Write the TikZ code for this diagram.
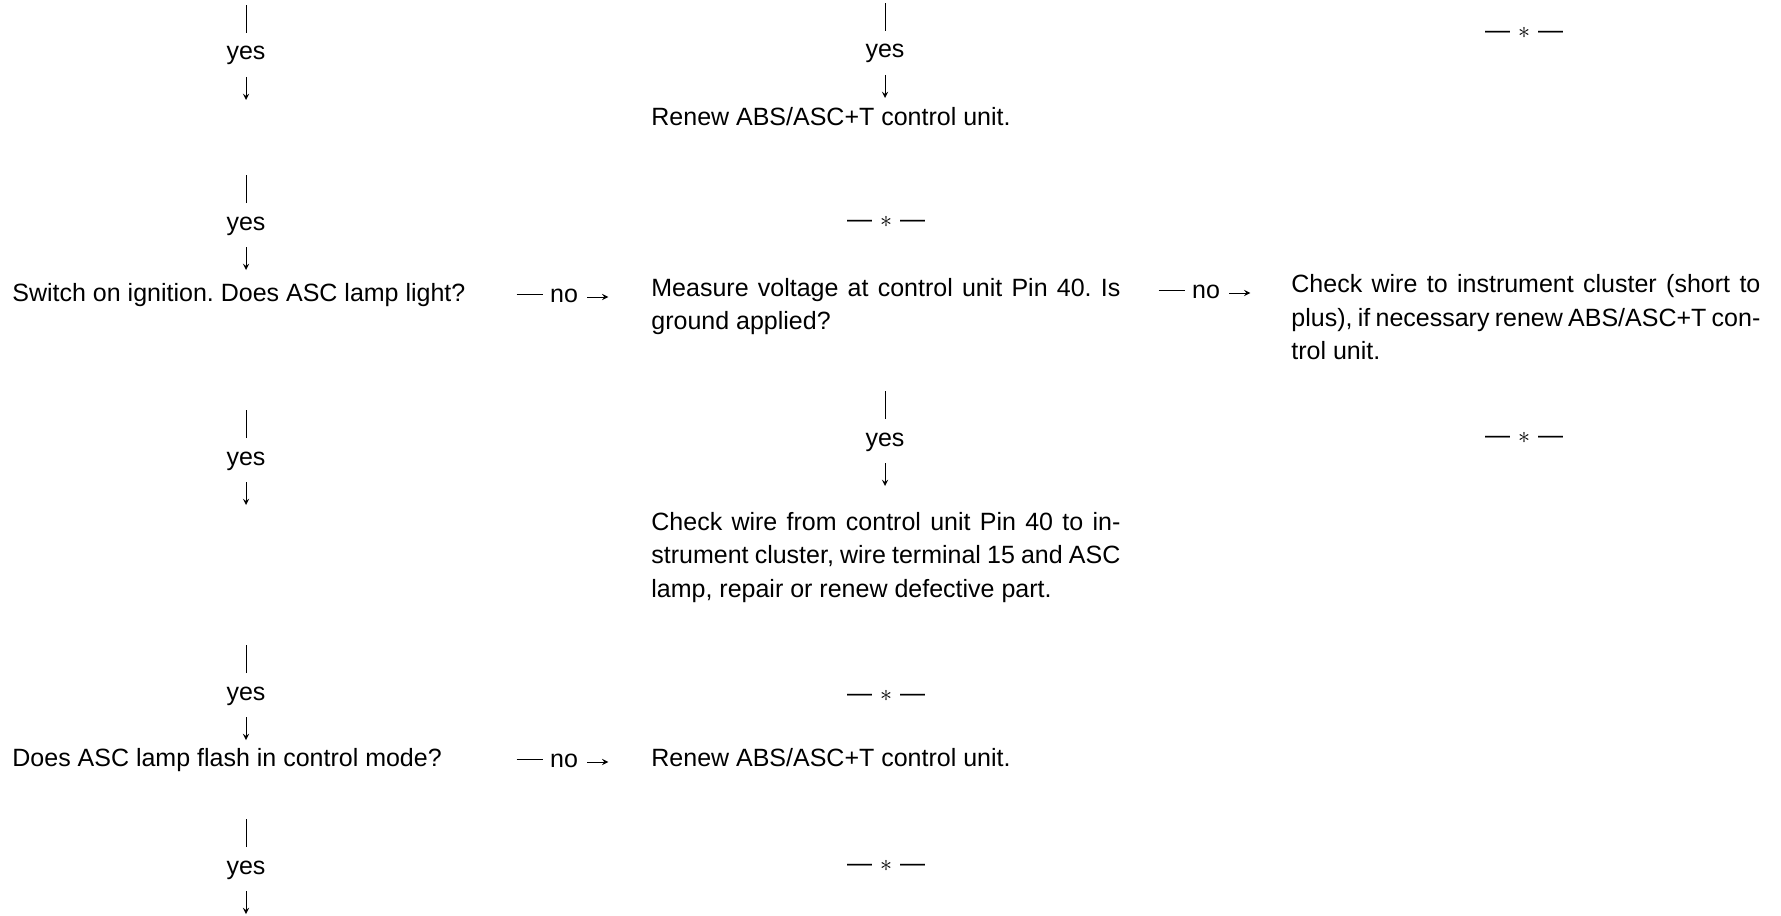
\documentclass[tikz,border=0pt]{standalone}
\usepackage{fontspec}
\setmainfont{Liberation Sans}
\frenchspacing
\def\colw{234.5pt}
\def\barlen{28}
\def\arrlen{23}
\tikzset{
semithick, % all lines semithick
>=stealth, % all arrows with stealth tip
my text/.style={font=\fontsize{12.5}{16.75}\selectfont,inner sep=0pt},
my block/.style={my text,align=left,anchor=base west},
my label/.style={my text,anchor=base},
my mark/.style={my text,anchor=base},
}
\begin{document}
\begin{tikzpicture}[x=0.5pt,y=-0.5pt]
\useasboundingbox (0,0) rectangle (1781,915);
% left column
\node[my label] (y1) at (246,60) {yes};
\node[my label] (y2) at (246,230) {yes};
\node[my block] (q1) at (12,301.5) {Switch on ignition. Does ASC lamp light?};
\node[my label] (y3) at (246,465) {yes};
\node[my label] (y4) at (246,700) {yes};
\node[my block] (q2) at (12,766) {Does ASC lamp flash in control mode?};
\node[my label] (y5) at (246,874) {yes};
% middle column (multi-line blocks sit on their last line)
\node[my label] (y6) at (885,58) {yes};
\node[my block] (a1) at (651,125.5) {Renew ABS/ASC+T control unit.};
\node[my mark] (s2) at (886,227) {---\hspace{4pt}$\ast$\hspace{4pt}---};
\node[my block] (q3) at (651,329.5)
  {\makebox[\colw][s]{Measure voltage at control unit Pin 40. Is}\\ground applied?};
\node[my label] (y7) at (885,446) {yes};
\node[my block] (a2) at (651,597)
  {\makebox[\colw][s]{Check wire from control unit Pin 40 to in-}\\
   \makebox[\colw][s]{strument cluster, wire terminal 15 and ASC}\\
   lamp, repair or renew defective part.};
\node[my mark] (s4) at (886,701) {---\hspace{4pt}$\ast$\hspace{4pt}---};
\node[my block] (a3) at (651,766.5) {Renew ABS/ASC+T control unit.};
\node[my mark] (s5) at (886,871) {---\hspace{4pt}$\ast$\hspace{4pt}---};
% right column
\node[my mark] (s1) at (1524,39) {---\hspace{4pt}$\ast$\hspace{4pt}---};
\node[my block] (a4) at (1291,359.5)
  {\makebox[\colw][s]{Check wire to instrument cluster (short to}\\
   \makebox[\colw][s]{plus), if necessary renew ABS/ASC+T con-}\\
   trol unit.};
\node[my mark] (s3) at (1524,443) {---\hspace{4pt}$\ast$\hspace{4pt}---};
% no branches
\node[my label] (n1) at (564,302) {no};
\node[my label] (n2) at (1206,298) {no};
\node[my label] (n3) at (564,767) {no};
% yes steps: bar above, arrow below
\draw[->] (y1.base) ++(0,-27) -- ++(0,-\barlen) (y1.base) ++(0,17) -- ++(0,\arrlen);
\draw[->] (y2.base) ++(0,-27) -- ++(0,-\barlen) (y2.base) ++(0,17) -- ++(0,\arrlen);
\draw[->] (y3.base) ++(0,-27) -- ++(0,-\barlen) (y3.base) ++(0,17) -- ++(0,\arrlen);
\draw[->] (y4.base) ++(0,-27) -- ++(0,-\barlen) (y4.base) ++(0,17) -- ++(0,\arrlen);
\draw[->] (y5.base) ++(0,-27) -- ++(0,-\barlen) (y5.base) ++(0,17) -- ++(0,\arrlen);
\draw[->] (y6.base) ++(0,-27) -- ++(0,-\barlen) (y6.base) ++(0,17) -- ++(0,\arrlen);
\draw[->] (y7.base) ++(0,-27) -- ++(0,-\barlen) (y7.base) ++(0,17) -- ++(0,\arrlen);
% no steps: dash before, arrow after
\draw[->] (n1.base west) ++(-33,-8) -- ++(26,0) (n1.base east) ++(9,-5) -- ++(21,0);
\draw[->] (n2.base west) ++(-33,-8) -- ++(26,0) (n2.base east) ++(9,-5) -- ++(21,0);
\draw[->] (n3.base west) ++(-33,-8) -- ++(26,0) (n3.base east) ++(9,-5) -- ++(21,0);
\end{tikzpicture}
\end{document}
